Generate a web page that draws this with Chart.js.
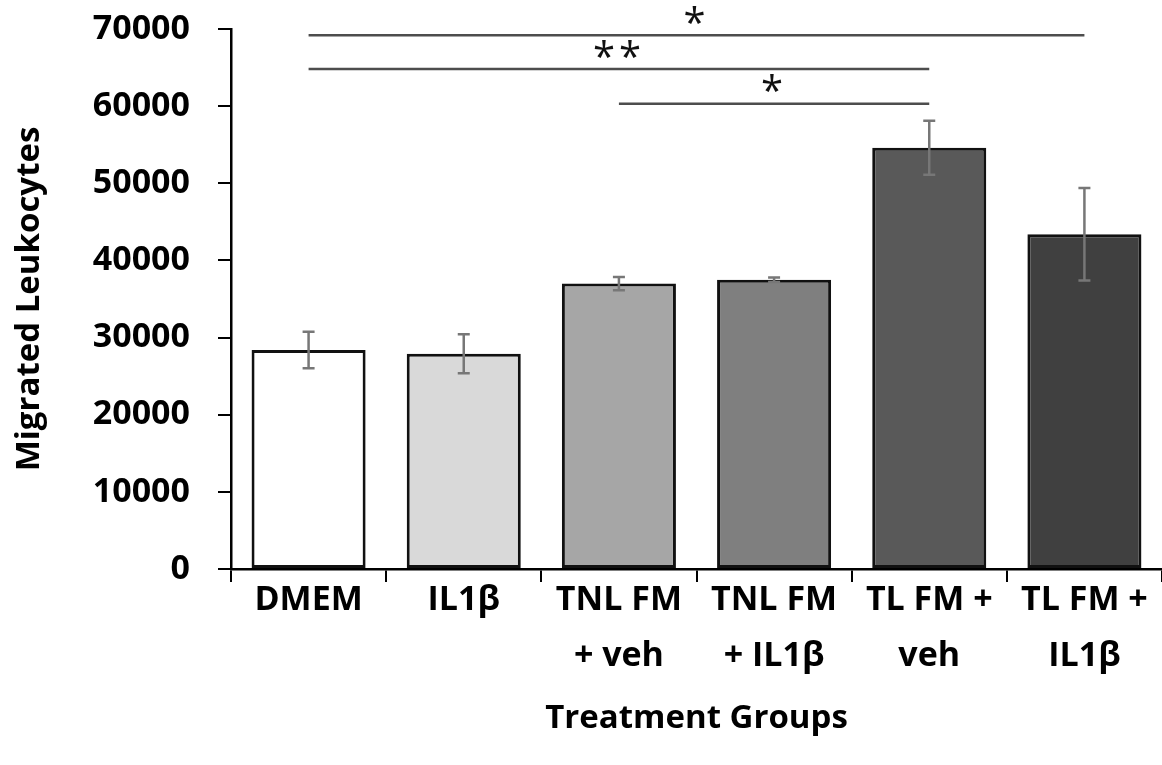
<!DOCTYPE html>
<html>
<head>
<meta charset="utf-8">
<script src="https://cdn.jsdelivr.net/npm/chart.js@4.4.1/dist/chart.umd.min.js"></script>
<style>
  html, body { margin: 0; padding: 0; background: #fff; }
  #wrap { width: 1162px; height: 765px; }
</style>
</head>
<body>
<div id="wrap"><canvas id="chart" width="1162" height="765"></canvas></div>
<script>
// Treatment groups (multi-line tick labels)
const groupLabels = [
  ['DMEM'],
  ['IL1β'],
  ['TNL FM', '+ veh'],
  ['TNL FM', '+ IL1β'],
  ['TL FM +', 'veh'],
  ['TL FM +', 'IL1β']
];
// Mean migrated leukocytes per group
const meanCounts = [28400, 27900, 37000, 37500, 54600, 43400];
// Error (± half-length of each error bar)
const errorCounts = [2370, 2520, 860, 300, 3500, 6000];
// Bar fill colours
const barFills = ['#ffffff', '#d9d9d9', '#a6a6a6', '#7f7f7f', '#595959', '#404040'];
// Significance brackets: from group index, to group index, height, marker
const bracketFrom = [0, 0, 2];
const bracketTo = [5, 4, 4];
const bracketLevel = [69200, 64800, 60300];
const bracketMark = ['*', '**', '*'];
// Y axis ticks
const yTicks = [0, 10000, 20000, 30000, 40000, 50000, 60000, 70000];

const FONT = '"Open Sans", "Liberation Sans", sans-serif';

const errorBarPlugin = {
  id: 'errorBars',
  afterDatasetsDraw(chart) {
    const { ctx, scales: { x, y } } = chart;
    ctx.save();
    ctx.strokeStyle = '#777777';
    ctx.lineWidth = 2.5;
    meanCounts.forEach((v, i) => {
      const px = x.getPixelForValue(i);
      const top = y.getPixelForValue(v + errorCounts[i]);
      const bot = y.getPixelForValue(v - errorCounts[i]);
      ctx.beginPath();
      ctx.moveTo(px, top); ctx.lineTo(px, bot);
      ctx.moveTo(px - 6, top); ctx.lineTo(px + 6, top);
      ctx.moveTo(px - 6, bot); ctx.lineTo(px + 6, bot);
      ctx.stroke();
    });
    ctx.restore();
  }
};

const bracketPlugin = {
  id: 'brackets',
  afterDraw(chart) {
    const { ctx, scales: { x, y } } = chart;
    ctx.save();
    ctx.strokeStyle = '#4d4d4d';
    ctx.lineWidth = 2.5;
    ctx.fillStyle = '#111111';
    ctx.font = '40px ' + FONT;
    ctx.textAlign = 'center';
    ctx.textBaseline = 'middle';
    if ('letterSpacing' in ctx) ctx.letterSpacing = '4px';
    bracketLevel.forEach((lvl, i) => {
      const x0 = x.getPixelForValue(bracketFrom[i]);
      const x1 = x.getPixelForValue(bracketTo[i]);
      const py = y.getPixelForValue(lvl);
      ctx.beginPath();
      ctx.moveTo(x0, py); ctx.lineTo(x1, py);
      ctx.stroke();
      ctx.fillText(bracketMark[i], (x0 + x1) / 2, py - 10);
    });
    ctx.restore();
  }
};

new Chart(document.getElementById('chart'), {
  type: 'bar',
  data: {
    labels: groupLabels,
    datasets: [{
      data: meanCounts,
      backgroundColor: barFills,
      borderColor: '#111111',
      borderWidth: 3,
      borderSkipped: false,
      barPercentage: 0.735,
      categoryPercentage: 1.0
    }]
  },
  options: {
    responsive: false,
    animation: false,
    devicePixelRatio: 1,
    layout: { padding: { top: 29, right: 0, bottom: 0, left: 0 } },
    plugins: { legend: { display: false }, tooltip: { enabled: false } },
    scales: {
      x: {
        offset: true,
        grid: { offset: true, drawOnChartArea: false, drawTicks: true, tickLength: 13, color: '#000', lineWidth: 2 },
        border: { color: '#000', width: 2.5 },
        ticks: {
          color: '#000',
          padding: -10,
          maxRotation: 0,
          autoSkip: false,
          font: { family: FONT, size: 34, weight: 'bold', lineHeight: 1.65 }
        },
        title: {
          display: true,
          text: 'Treatment Groups',
          color: '#000',
          font: { family: FONT, size: 33, weight: 'bold', lineHeight: 1.2 },
          padding: { top: 0, bottom: 27 }
        },
        afterFit(scale) { scale.height = 196; }
      },
      y: {
        min: 0,
        max: 70000,
        afterBuildTicks(scale) { scale.ticks = yTicks.map(v => ({ value: v })); },
        grid: { drawOnChartArea: false, drawTicks: true, tickLength: 13, color: '#000', lineWidth: 2 },
        border: { color: '#000', width: 2.5 },
        ticks: {
          color: '#000',
          padding: 28,
          font: { family: FONT, size: 34, weight: 'bold' },
          callback: (v) => String(v)
        },
        title: {
          display: true,
          text: 'Migrated Leukocytes',
          color: '#000',
          font: { family: FONT, size: 33, weight: 'bold', lineHeight: 1.2 },
          padding: { top: 10, bottom: 0 }
        },
        afterFit(scale) {
          scale.width = 231;
          scale.paddingTop = 0;
          scale.paddingBottom = 0;
        }
      }
    }
  },
  plugins: [errorBarPlugin, bracketPlugin]
});
</script>
</body>
</html>
